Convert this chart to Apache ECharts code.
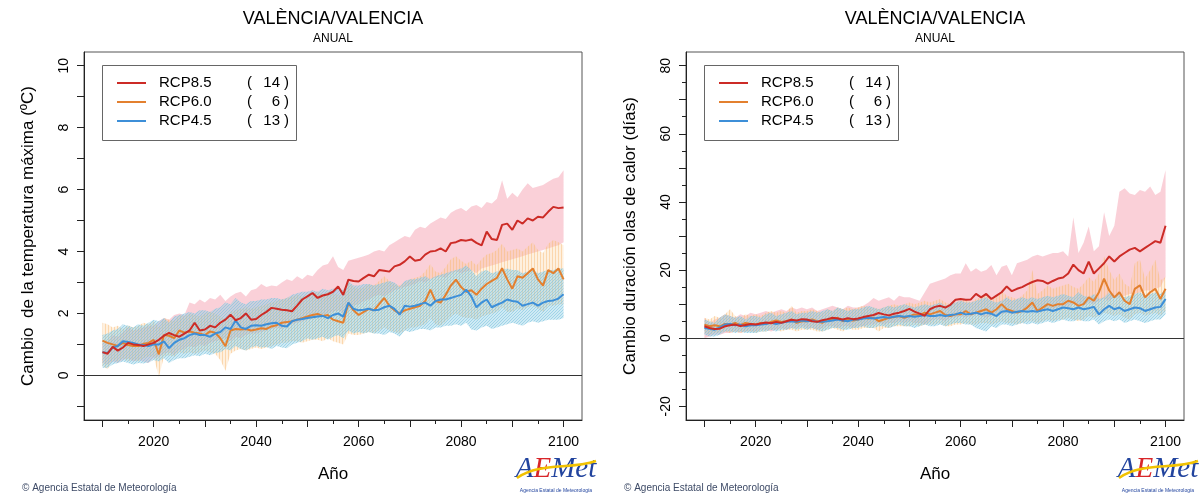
<!DOCTYPE html>
<html><head><meta charset="utf-8">
<script src="https://cdn.jsdelivr.net/npm/echarts@6/dist/echarts.min.js"></script>
<style>html,body{margin:0;padding:0;background:#fff}#c{width:1202px;height:495px}</style>
</head><body><div id="c"></div>
<script>
// ---------- data ----------
const firstYear = 2010, lastYear = 2100;
const years = [];
for (let y = firstYear; y <= lastYear; y++) years.push(y);

const xTicksMajor = [2010, 2020, 2030, 2040, 2050, 2060, 2070, 2080, 2090, 2100];
const xTicksMinor = [2015, 2025, 2035, 2045, 2055, 2065, 2075, 2085, 2095];
const xLabels = [2020, 2040, 2060, 2080, 2100];
const tempTicks = [-1, 0, 1, 2, 3, 4, 5, 6, 7, 8, 9, 10];
const tempLabels = [0, 2, 4, 6, 8, 10];
const daysTicksMajor = [-20, -10, 0, 10, 20, 30, 40, 50, 60, 70, 80];
const daysTicksMinor = [-15, -5, 5, 15, 25, 35, 45, 55, 65, 75];
const daysLabels = [-20, 0, 20, 40, 60, 80];

const scenarios = ['RCP8.5', 'RCP6.0', 'RCP4.5'];
const modelCounts = [14, 6, 13];

// Left: change in max temperature (ºC)
const t85 = [0.75,0.70,0.92,0.80,0.90,1.05,1.00,0.98,0.95,1.00,
 1.05,1.15,1.28,1.37,1.30,1.25,1.35,1.45,1.70,1.45,
 1.48,1.60,1.55,1.70,1.80,1.96,1.78,1.85,2.00,1.80,
 1.82,1.95,2.05,2.18,2.15,2.12,2.10,2.07,2.25,2.45,
 2.55,2.66,2.50,2.58,2.62,2.70,2.87,2.60,3.09,3.05,
 3.03,3.15,3.25,3.20,3.40,3.38,3.35,3.52,3.57,3.68,
 3.84,3.70,3.73,3.90,4.00,4.02,4.10,4.00,4.27,4.30,
 4.37,4.35,4.39,4.28,4.20,4.64,4.40,4.37,4.86,4.90,
 4.70,5.00,4.90,5.07,5.00,5.12,5.10,5.28,5.44,5.40,5.42];
const t85Hi = [1.05,1.10,1.30,1.25,1.40,1.55,1.45,1.50,1.55,1.60,
 1.60,1.75,1.85,1.80,1.95,2.00,1.95,2.35,2.30,2.45,
 2.35,2.50,2.45,2.60,2.40,2.55,2.65,2.70,2.55,2.75,
 2.80,2.95,2.85,2.90,2.88,3.00,3.10,3.05,3.20,3.10,
 3.25,3.20,3.40,3.55,3.60,3.85,3.50,3.40,3.70,3.75,
 3.80,3.85,3.90,4.00,4.05,4.00,4.20,4.30,4.40,4.50,
 4.45,4.70,4.80,4.75,4.90,5.00,5.10,5.05,5.25,5.35,
 5.40,5.30,5.45,5.50,5.40,5.60,5.55,5.70,6.30,5.70,
 5.90,5.75,6.00,6.20,6.05,6.10,6.15,6.25,6.35,6.40,6.62];
const t85Lo = [0.40,0.35,0.45,0.40,0.50,0.55,0.45,0.50,0.45,0.40,
 0.55,0.60,0.70,0.75,0.65,0.80,0.85,0.95,0.90,1.00,
 0.95,1.05,1.10,1.15,1.20,1.10,1.25,1.20,1.30,1.35,
 1.35,1.40,1.45,1.50,1.55,1.50,1.60,1.65,1.70,1.75,
 1.80,1.85,1.90,1.95,2.00,2.05,2.10,2.00,2.20,2.25,
 2.30,2.40,2.45,2.55,2.60,2.55,2.65,2.75,2.80,2.85,
 2.90,2.95,3.05,3.00,3.10,3.15,3.20,3.15,3.30,3.35,
 3.30,3.35,3.40,3.30,3.45,3.50,3.55,3.60,3.65,3.70,
 3.75,3.80,3.85,3.90,3.95,4.00,4.05,4.10,4.15,4.20,4.30];
const t60 = [1.12,1.05,1.00,0.95,1.05,0.98,0.95,0.95,1.02,1.05,
 1.15,0.68,1.30,1.28,1.20,1.45,1.38,1.42,1.38,1.35,
 1.30,1.42,1.38,1.20,0.94,1.45,1.50,1.48,1.50,1.45,
 1.48,1.52,1.50,1.58,1.62,1.70,1.72,1.75,1.80,1.85,
 1.90,1.95,1.98,1.92,1.95,1.80,1.75,1.70,2.34,2.10,
 1.95,2.05,2.15,2.10,2.30,2.50,2.25,2.10,2.00,2.10,
 2.15,2.20,2.25,2.40,2.77,2.40,2.35,2.60,2.90,3.09,
 2.85,2.70,2.75,2.60,2.80,2.95,3.05,3.15,3.46,3.10,
 2.80,3.20,3.15,3.30,3.45,3.10,2.90,3.40,3.30,3.45,3.10];
const t60Hi = [1.70,1.65,1.55,1.60,1.50,1.62,1.55,1.60,1.70,1.65,
 1.75,1.55,1.85,1.80,1.75,1.95,1.90,2.00,1.95,1.90,
 2.00,2.05,2.00,1.90,1.80,2.05,2.10,2.15,2.20,2.15,
 2.20,2.25,2.30,2.35,2.40,2.45,2.50,2.55,2.60,2.55,
 2.60,2.65,2.70,2.60,2.70,2.65,2.60,2.55,3.00,2.85,
 2.80,2.85,2.95,2.90,3.05,3.20,3.05,2.95,2.90,3.00,
 3.10,3.15,3.20,3.35,3.60,3.35,3.30,3.50,3.75,3.85,
 3.70,3.60,3.70,3.55,3.75,3.90,3.95,4.05,4.25,4.00,
 4.05,4.10,4.00,4.15,4.30,4.05,3.95,4.25,4.37,4.30,4.20];
const t60Lo = [0.30,0.20,0.50,0.45,0.55,0.45,0.50,0.45,0.55,0.60,
 0.60,-0.05,0.60,0.65,0.60,0.75,0.70,0.75,0.70,0.75,
 0.80,0.75,0.70,0.50,0.15,0.70,0.80,0.85,0.80,0.85,
 0.90,0.85,0.90,0.95,1.00,1.05,1.05,1.10,1.10,1.05,
 1.10,1.15,1.15,1.10,1.20,1.10,1.05,1.00,1.35,1.30,
 1.30,1.35,1.40,1.35,1.45,1.55,1.45,1.40,1.35,1.45,
 1.55,1.55,1.60,1.65,1.85,1.65,1.60,1.75,1.90,2.00,
 1.90,1.85,1.85,1.80,1.90,1.95,2.00,2.05,2.20,2.05,
 2.05,2.15,2.10,2.20,2.25,2.15,2.05,2.25,2.25,2.30,2.30];
const t45 = [0.75,0.72,0.90,0.95,1.10,1.08,1.05,1.00,0.98,0.95,
 1.00,1.00,1.10,0.88,1.05,1.15,1.20,1.30,1.35,1.30,
 1.30,1.25,1.35,1.40,1.55,1.50,1.77,1.55,1.50,1.60,
 1.62,1.60,1.65,1.68,1.70,1.60,1.58,1.75,1.80,1.82,
 1.85,1.88,1.90,1.92,1.85,1.95,2.00,1.90,2.35,2.15,
 2.10,2.12,2.15,2.10,2.12,2.20,2.25,2.15,1.96,2.25,
 2.22,2.25,2.30,2.35,2.25,2.40,2.45,2.45,2.50,2.55,
 2.60,2.77,2.55,2.20,2.35,2.45,2.20,2.28,2.35,2.45,
 2.40,2.38,2.25,2.30,2.35,2.25,2.35,2.40,2.42,2.48,2.62];
const t45Hi = [1.30,1.35,1.45,1.50,1.65,1.60,1.55,1.65,1.60,1.70,
 1.80,1.75,1.85,1.70,1.90,1.95,2.00,2.05,2.00,2.10,
 2.10,2.05,2.15,2.20,2.35,2.30,2.50,2.35,2.30,2.40,
 2.40,2.45,2.45,2.50,2.50,2.45,2.50,2.60,2.65,2.70,
 2.70,2.75,2.70,2.80,2.75,2.80,2.85,2.75,3.05,2.90,
 2.90,2.95,2.95,2.90,2.95,3.00,3.05,3.00,2.85,3.05,
 3.10,3.10,3.15,3.20,3.10,3.20,3.25,3.30,3.35,3.40,
 3.45,3.55,3.40,3.20,3.35,3.40,3.30,3.35,3.40,3.45,
 3.40,3.40,3.30,3.35,3.40,3.30,3.35,3.40,3.40,3.45,3.45];
const t45Lo = [0.25,0.25,0.35,0.40,0.45,0.40,0.35,0.40,0.38,0.42,
 0.50,0.45,0.55,0.40,0.50,0.55,0.55,0.60,0.65,0.62,
 0.70,0.65,0.72,0.75,0.85,0.80,0.95,0.85,0.80,0.90,
 0.95,0.90,0.92,0.85,0.95,0.90,0.88,1.00,1.05,1.10,
 1.20,1.15,1.20,1.25,1.15,1.25,1.30,1.20,1.45,1.35,
 1.40,1.35,1.40,1.35,1.35,1.30,1.40,1.35,1.25,1.45,
 1.40,1.45,1.50,1.50,1.45,1.55,1.55,1.60,1.60,1.65,
 1.60,1.70,1.48,1.45,1.55,1.60,1.50,1.55,1.60,1.65,
 1.70,1.65,1.60,1.70,1.75,1.70,1.75,1.80,1.80,1.80,1.85];

// Right: change in heat-wave duration (days)
const d85 = [3.5,3.0,2.7,2.8,3.5,3.8,4.0,3.6,3.9,4.2,
 4.0,4.3,4.6,4.4,4.8,4.5,5.0,5.4,5.2,5.6,
 5.5,5.0,4.8,5.3,5.6,6.0,5.8,5.5,5.9,5.6,
 5.8,6.2,6.5,6.8,7.4,7.0,6.7,7.2,7.5,8.0,
 8.6,7.8,7.2,6.6,8.5,9.2,9.5,9.0,9.8,11.3,
 11.5,11.3,11.4,13.0,12.0,13.0,11.5,12.5,13.5,15.2,
 13.8,14.5,15.0,15.8,16.5,17.0,16.8,16.0,16.8,17.5,
 17.8,19.0,21.6,20.0,19.0,22.5,19.0,20.5,22.0,24.0,
 22.5,24.0,25.0,26.0,26.5,25.5,26.5,27.5,28.5,28.0,33.0];
const d85Hi = [6.0,4.5,5.5,6.0,7.0,6.5,6.0,7.0,6.5,7.5,
 7.0,7.5,8.0,7.5,8.0,8.5,8.0,9.0,8.5,9.0,
 8.5,9.0,8.0,8.5,9.0,9.5,9.0,8.5,9.5,9.0,
 9.0,9.5,10.5,11.8,11.0,11.5,12.0,11.0,12.5,12.0,
 12.0,11.5,11.0,13.5,16.0,16.5,17.0,17.5,18.5,19.0,
 19.0,22.0,19.5,20.5,19.5,20.0,21.5,18.5,21.0,21.5,
 18.5,22.0,22.5,23.0,24.0,24.5,24.0,24.5,25.0,25.0,
 25.5,24.0,35.5,25.0,28.0,32.8,25.5,27.0,37.0,30.0,
 33.0,43.0,44.0,42.5,42.0,43.5,43.0,44.5,42.0,43.0,49.4];
const d85Lo = [0.0,0.5,1.0,1.0,1.5,1.5,2.0,1.5,2.0,2.0,
 2.0,2.5,2.5,2.0,2.5,3.0,2.5,3.0,3.0,3.5,
 3.0,3.0,2.5,3.0,3.5,3.5,3.0,3.5,3.5,3.0,
 3.5,3.5,4.0,4.0,4.5,4.0,4.5,4.5,5.0,4.5,
 5.0,4.5,4.5,4.0,5.0,5.5,5.5,5.0,6.0,6.0,
 6.5,6.0,6.5,7.0,6.5,6.0,6.5,7.0,7.0,7.5,
 7.0,7.5,8.0,8.0,8.5,8.0,8.5,9.0,8.5,9.0,
 9.5,9.0,10.0,10.0,9.5,10.5,10.0,11.0,11.5,11.0,
 12.0,12.0,12.5,13.0,13.0,13.5,14.0,14.0,14.5,15.0,18.0];
const d60 = [4.0,3.5,3.8,3.5,4.2,4.0,4.5,3.8,4.5,4.2,
 4.0,4.5,4.2,4.8,5.2,4.8,5.0,5.5,4.5,5.0,
 5.0,5.5,5.0,4.5,5.5,5.5,6.0,5.0,5.5,5.2,
 5.5,6.0,5.8,6.0,5.0,5.5,6.0,6.2,6.5,6.0,
 6.5,7.0,6.8,7.5,7.0,7.5,8.0,6.8,6.5,7.0,
 7.0,8.0,7.0,7.5,8.0,8.5,7.5,8.5,10.0,8.5,
 8.0,7.5,8.0,9.0,10.5,8.0,9.0,10.0,9.5,10.0,
 10.0,11.0,10.5,9.5,10.0,12.0,11.0,13.5,17.5,14.0,
 12.0,13.5,11.0,10.0,14.5,15.5,12.0,13.5,14.5,11.5,14.5];
const d60Hi = [6.0,5.5,6.5,6.0,7.0,8.5,6.5,6.0,7.0,6.5,
 7.0,6.5,7.5,8.0,7.5,8.0,7.5,9.5,7.5,8.0,
 8.0,8.5,8.0,7.5,8.5,8.0,9.0,8.5,9.0,8.5,
 9.0,9.5,9.0,9.0,8.5,9.0,9.5,10.0,9.5,10.0,
 10.5,10.0,10.5,11.0,10.5,11.0,11.5,10.5,10.0,10.5,
 11.0,11.5,10.5,11.5,12.0,12.5,11.5,12.0,14.0,12.5,
 12.0,11.5,12.5,14.0,20.0,13.0,14.0,15.5,14.5,15.0,
 15.5,16.0,15.0,14.5,16.0,18.0,16.5,19.0,24.0,20.0,
 17.0,19.0,16.0,15.0,22.0,23.0,17.5,20.0,23.0,17.0,18.0];
const d60Lo = [1.5,1.0,1.5,1.5,2.0,1.5,2.0,1.5,2.0,2.0,
 1.5,2.0,2.0,2.5,2.5,2.0,2.5,2.5,2.0,2.5,
 2.5,2.5,2.0,2.0,2.5,3.0,2.5,2.0,3.0,2.5,
 2.5,3.0,3.0,3.0,2.0,3.0,3.0,3.5,3.5,3.5,
 3.5,4.0,3.5,4.0,4.0,4.0,4.5,3.5,3.5,4.0,
 4.0,4.5,4.0,4.0,4.5,4.5,4.0,4.5,5.0,4.5,
 4.5,4.0,4.5,5.0,5.0,4.5,5.0,5.5,5.0,5.5,
 5.5,6.0,5.5,5.0,5.5,6.5,6.0,6.5,7.5,7.0,
 6.5,7.0,6.0,5.5,7.0,7.5,6.5,7.0,7.5,6.5,8.0];
const d45 = [3.0,2.8,2.5,3.2,4.0,4.2,3.8,4.0,3.5,3.8,
 3.8,4.0,4.2,4.5,4.2,4.5,4.8,5.0,4.8,5.2,
 5.0,5.2,4.8,4.8,5.0,5.2,5.5,5.2,5.0,5.5,
 5.5,5.8,6.0,5.8,6.0,6.2,6.0,6.3,6.5,6.3,
 6.5,6.3,6.5,6.8,6.5,6.5,6.8,6.5,6.8,7.0,
 7.5,7.0,7.2,7.5,7.0,7.5,7.2,6.5,7.8,8.0,
 7.5,7.8,8.0,7.8,8.0,7.8,8.2,8.5,8.0,8.5,
 9.0,8.8,8.5,9.0,8.5,8.8,9.2,7.0,8.5,9.5,
 8.5,9.0,8.0,8.5,9.0,8.8,8.0,8.5,9.0,9.2,11.5];
const d45Hi = [5.5,5.0,4.5,6.0,7.0,6.5,6.0,6.5,5.5,6.5,
 6.5,6.0,7.0,7.5,6.5,7.0,7.5,8.0,7.0,7.5,
 7.5,8.0,7.5,8.0,8.5,8.0,9.0,8.5,8.0,8.5,
 8.5,9.0,9.5,9.0,8.5,9.0,9.5,9.0,9.5,10.0,
 9.5,9.0,9.5,10.0,9.5,10.0,10.5,9.5,10.0,10.5,
 11.0,10.5,10.5,11.0,11.5,12.0,11.0,10.5,11.0,12.0,
 11.0,11.5,12.0,11.5,12.0,11.5,12.0,12.5,12.0,12.5,
 13.0,12.5,12.0,13.5,12.5,12.0,13.0,11.5,12.0,13.5,
 12.5,13.0,12.0,12.5,13.0,13.5,12.5,13.0,13.5,13.0,14.0];
const d45Lo = [1.0,0.5,0.5,1.0,2.0,2.0,1.5,2.0,1.5,1.5,
 1.5,2.0,2.0,2.5,2.0,2.5,2.5,3.0,2.5,3.0,
 2.5,3.0,2.5,2.0,2.5,3.0,3.0,2.5,2.5,3.0,
 3.0,3.5,3.0,3.0,3.5,3.5,3.0,3.5,4.0,3.5,
 3.5,3.0,3.5,4.0,3.5,3.5,4.0,3.5,4.0,4.5,
 4.5,4.0,4.0,3.0,2.5,2.0,3.5,3.0,4.0,4.0,
 3.5,4.0,4.5,4.0,4.5,4.0,4.5,5.0,4.5,5.0,
 5.5,5.0,5.0,5.5,5.0,5.0,5.5,4.0,5.0,5.5,
 5.0,5.5,4.5,5.0,5.5,5.0,4.5,5.0,5.5,5.5,7.0];

// ---------- styling ----------
const FONT = 'Liberation Sans';
const lineColors = ['#cc2b26', '#e3802f', '#3d8fd8'];
function hatchPattern(bg, stripe, dir) {
  const c = document.createElement('canvas');
  c.width = 3; c.height = 3;
  const g = c.getContext('2d');
  g.fillStyle = bg; g.fillRect(0, 0, 3, 3);
  g.fillStyle = stripe;
  if (dir === 'v') { g.fillRect(0, 0, 1, 3); }
  else { g.fillRect(0, 2, 1, 1); g.fillRect(1, 1, 1, 1); g.fillRect(2, 0, 1, 1); }
  return { image: c, repeat: 'repeat' };
}
const bandFills = [
  'rgba(243,150,168,0.45)',
  hatchPattern('rgba(252,205,150,0.30)', 'rgba(246,178,105,0.42)', 'v'),
  hatchPattern('rgba(140,205,228,0.42)', 'rgba(120,195,222,0.55)', 'd')
];

const xMin = 2006.4, xMax = 2103.6;
const panels = [
  { left: 84, yMin: -1.44, yMax: 10.44, means: [t85, t60, t45], lo: [t85Lo, t60Lo, t45Lo], hi: [t85Hi, t60Hi, t45Hi],
    ticks: tempTicks, minorTicks: null, labels: tempLabels, ytitle: 'Cambio  de la temperatura máxima (ºC)' },
  { left: 686, yMin: -24, yMax: 84, means: [d85, d60, d45], lo: [d85Lo, d60Lo, d45Lo], hi: [d85Hi, d60Hi, d45Hi],
    ticks: daysTicksMajor, minorTicks: daysTicksMinor, labels: daysLabels, ytitle: 'Cambio duración olas de calor (días)' }
];
const GT = 52, GW = 498, GH = 368;

const grids = [], xAxes = [], yAxes = [], series = [], graphics = [];
panels.forEach((p) => {
  grids.push({ left: p.left, top: GT, width: GW, height: GH, show: true, borderColor: '#555', borderWidth: 1, containLabel: false });
});
panels.forEach((p) => {
  grids.push({ left: p.left, top: GT, width: GW, height: GH, show: false, containLabel: false });
});
panels.forEach((p, pi) => {
  xAxes.push({ gridIndex: pi, type: 'value', min: xMin, max: xMax,
    axisLine: { show: true, onZero: false, lineStyle: { color: '#222', width: 1 } },
    splitLine: { show: false },
    axisTick: { show: true, customValues: xTicksMajor, length: 7, lineStyle: { color: '#222', width: 1 } },
    axisLabel: { customValues: xLabels, formatter: v => String(v), fontSize: 14, color: '#000', fontFamily: FONT, margin: 15 } });
  yAxes.push({ gridIndex: pi, type: 'value', min: p.yMin, max: p.yMax,
    axisLine: { show: true, onZero: false, lineStyle: { color: '#222', width: 1 } },
    splitLine: { show: false },
    axisTick: { show: true, customValues: p.ticks, length: 7, lineStyle: { color: '#222', width: 1 } },
    axisLabel: { customValues: p.labels, formatter: v => String(v), fontSize: 14, color: '#000', fontFamily: FONT, rotate: 90, margin: 13 } });
});
panels.forEach((p, pi) => {
  xAxes.push({ gridIndex: 2 + pi, type: 'value', min: xMin, max: xMax,
    axisLine: { show: false, onZero: false }, splitLine: { show: false },
    axisTick: { show: true, customValues: xTicksMinor, length: 4, lineStyle: { color: '#222', width: 1 } },
    axisLabel: { show: false } });
  yAxes.push({ gridIndex: 2 + pi, type: 'value', min: p.yMin, max: p.yMax,
    axisLine: { show: false, onZero: false }, splitLine: { show: false },
    axisTick: { show: !!p.minorTicks, customValues: p.minorTicks || [0], length: 4, lineStyle: { color: '#222', width: 1 } },
    axisLabel: { show: false } });
});

panels.forEach((p, pi) => {
  [0, 1, 2].forEach(k => {
    const lo = p.lo[k], hi = p.hi[k];
    series.push({
      type: 'custom', name: scenarios[k] + ' range', xAxisIndex: pi, yAxisIndex: pi, silent: true, clip: true, z: 1,
      data: years.map((y, i) => [y, lo[i], hi[i]]),
      encode: { x: 0, y: [1, 2] },
      renderItem: (params, api) => {
        if (params.dataIndex !== 0) return null;
        const pts = [];
        for (let i = 0; i < years.length; i++) pts.push(api.coord([years[i], hi[i]]));
        for (let i = years.length - 1; i >= 0; i--) pts.push(api.coord([years[i], lo[i]]));
        return { type: 'polygon', shape: { points: pts }, style: { fill: bandFills[k], stroke: null } };
      }
    });
  });
  series.push({ type: 'line', xAxisIndex: pi, yAxisIndex: pi, data: [], silent: true, z: 2,
    markLine: { silent: true, symbol: ['none', 'none'], label: { show: false },
      lineStyle: { color: '#333', width: 1, type: 'solid' }, data: [{ yAxis: 0 }] } });
  [1, 2, 0].forEach(k => {
    series.push({ type: 'line', name: scenarios[k], xAxisIndex: pi, yAxisIndex: pi, z: 3,
      data: years.map((y, i) => [y, p.means[k][i]]), showSymbol: false, symbol: 'none',
      lineStyle: { color: lineColors[k], width: 2 }, silent: true });
  });

  const off = p.left - 84;
  const cx = p.left + GW / 2;
  graphics.push({ type: 'text', x: cx, y: 19, style: { text: 'VALÈNCIA/VALENCIA', font: '18px "Liberation Sans"', fill: '#000', align: 'center', verticalAlign: 'middle' } });
  graphics.push({ type: 'text', x: cx, y: 39, style: { text: 'ANUAL', font: '12px "Liberation Sans"', fill: '#000', align: 'center', verticalAlign: 'middle' } });
  graphics.push({ type: 'text', x: 28 + off, y: 236, rotation: Math.PI / 2, style: { text: p.ytitle, font: '17px "Liberation Sans"', fill: '#000', align: 'center', verticalAlign: 'middle' } });
  graphics.push({ type: 'text', x: cx, y: 474, style: { text: 'Año', font: '17px "Liberation Sans"', fill: '#000', align: 'center', verticalAlign: 'middle' } });
  graphics.push({ type: 'rect', shape: { x: 102.5 + off, y: 65.5, width: 194, height: 75 }, style: { fill: '#fff', stroke: '#666', lineWidth: 1 }, z: 10 });
  [0, 1, 2].forEach(k => {
    const yy = 83 + k * 19;
    graphics.push({ type: 'line', shape: { x1: 117 + off, y1: yy, x2: 146 + off, y2: yy }, style: { stroke: lineColors[k], lineWidth: 2 }, z: 11 });
    graphics.push({ type: 'text', x: 159 + off, y: yy, style: { text: scenarios[k], font: '15px "Liberation Sans"', fill: '#000', verticalAlign: 'middle' }, z: 11 });
    graphics.push({ type: 'text', x: 247 + off, y: yy, style: { text: '(', font: '15px "Liberation Sans"', fill: '#000', verticalAlign: 'middle' }, z: 11 });
    graphics.push({ type: 'text', x: 280 + off, y: yy, style: { text: String(modelCounts[k]), font: '15px "Liberation Sans"', fill: '#000', align: 'right', verticalAlign: 'middle' }, z: 11 });
    graphics.push({ type: 'text', x: 284 + off, y: yy, style: { text: ')', font: '15px "Liberation Sans"', fill: '#000', verticalAlign: 'middle' }, z: 11 });
  });
  graphics.push({ type: 'text', x: 22 + off, y: 488, style: { text: '© Agencia Estatal de Meteorología', font: '10px "Liberation Sans"', fill: '#3d4a66', verticalAlign: 'middle' } });
  graphics.push({ type: 'text', x: 556 + off, y: 469, style: {
    text: '{a|A}{e|E}{a|Met}', align: 'center', verticalAlign: 'middle',
    rich: { a: { font: 'italic 29px "Liberation Serif"', fill: '#22449e' }, e: { font: 'italic 29px "Liberation Serif"', fill: '#d8262a' } } } });
  graphics.push({ type: 'bezierCurve', shape: { x1: 517 + off, y1: 478, cpx1: 540 + off, cpy1: 462, cpx2: 570 + off, cpy2: 470, x2: 596 + off, y2: 461 }, style: { stroke: '#f2c200', lineWidth: 2.5, fill: null } });
  graphics.push({ type: 'text', x: 556 + off, y: 491, style: { text: 'Agencia Estatal de Meteorología', font: '5px "Liberation Sans"', fill: '#22449e', align: 'center', verticalAlign: 'middle' } });
});

const chart = echarts.init(document.getElementById('c'), null, { renderer: 'canvas' });
chart.setOption({
  animation: false,
  backgroundColor: '#fff',
  grid: grids, xAxis: xAxes, yAxis: yAxes, series: series, graphic: graphics
});
</script></body></html>
